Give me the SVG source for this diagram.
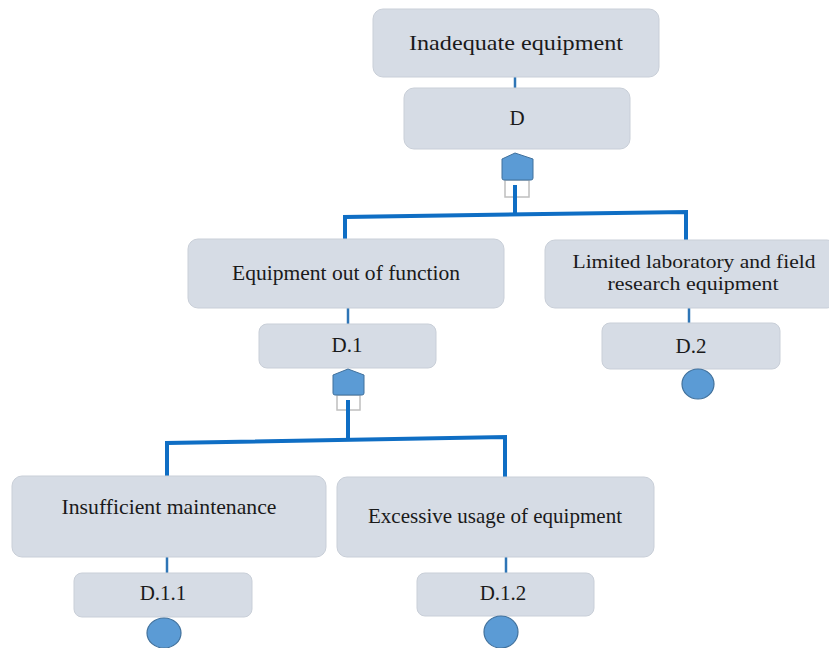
<svg xmlns="http://www.w3.org/2000/svg" width="829" height="648" viewBox="0 0 829 648">
  <style>
    .box { fill: #D6DCE5; stroke: #C9CFD8; stroke-width: 1; }
    .lbl { font-family: "Liberation Serif", "Times New Roman", serif; font-size: 21px; fill: #1a1a1a; text-anchor: middle; }
    .lbl2 { font-size: 19px; }
    .thin { stroke: #2E75B6; stroke-width: 2.5; fill: none; }
    .thick { stroke: #0F6EC4; stroke-width: 4; fill: none; stroke-linejoin: miter; }
    .gate { fill: #5B9BD5; stroke: #41719C; stroke-width: 1; }
    .socket { fill: #FFFFFF; stroke: #BFBFBF; stroke-width: 1.5; }
    .basic { fill: #5B9BD5; stroke: #41719C; stroke-width: 1.2; }
  </style>

  <!-- connectors -->
  <g id="connectors">
    <line class="thin" x1="515" y1="77" x2="515" y2="89"/>
    <line class="thin" x1="348" y1="308" x2="348" y2="324"/>
    <line class="thin" x1="689" y1="308" x2="689" y2="323"/>
    <line class="thin" x1="167" y1="557" x2="167" y2="573"/>
    <line class="thin" x1="506" y1="557" x2="506" y2="573"/>
    <path class="thick" d="M345,240 V217 L686,212 V240"/>
    <path class="thick" d="M167,477 V443 L505,437 V478"/>
  </g>

  <!-- top event -->
  <g id="top-event">
    <rect class="box" x="373" y="9" width="286" height="68" rx="10"/>
    <text class="lbl" x="516" y="50" textLength="214" lengthAdjust="spacingAndGlyphs">Inadequate equipment</text>
  </g>
  <g id="node-D">
    <rect class="box" x="404" y="88" width="226" height="61" rx="10"/>
    <text class="lbl" x="517" y="125">D</text>
  </g>

  <!-- OR gate under D -->
  <g id="gate-D">
    <rect class="socket" x="505" y="180" width="24" height="17"/>
    <path class="gate" d="M502,159 L515,153 L533,159 V178 Q533,180 531,180 H504 Q502,180 502,178 Z"/>
    <line class="thick" x1="515" y1="185" x2="515" y2="215"/>
  </g>

  <g id="event-equipment-out">
    <rect class="box" x="188" y="239" width="316" height="69" rx="10"/>
    <text class="lbl" x="346" y="280" textLength="228" lengthAdjust="spacingAndGlyphs">Equipment out of function</text>
  </g>
  <g id="node-D1">
    <rect class="box" x="259" y="324" width="177" height="44" rx="8"/>
    <text class="lbl" x="347" y="352">D.1</text>
  </g>

  <!-- OR gate under D.1 -->
  <g id="gate-D1">
    <rect class="socket" x="337" y="395" width="23" height="15"/>
    <path class="gate" d="M333,375 L348,369 L364,375 V393 Q364,395 362,395 H335 Q333,395 333,393 Z"/>
    <line class="thick" x1="348" y1="400" x2="348" y2="441"/>
  </g>

  <g id="event-limited">
    <rect class="box" x="545" y="240" width="292" height="68" rx="10"/>
    <text class="lbl lbl2" x="694" y="268" textLength="243" lengthAdjust="spacingAndGlyphs">Limited laboratory and field</text>
    <text class="lbl lbl2" x="693" y="290" textLength="171" lengthAdjust="spacingAndGlyphs">research equipment</text>
  </g>
  <g id="node-D2">
    <rect class="box" x="602" y="323" width="178" height="46" rx="8"/>
    <text class="lbl" x="691" y="353">D.2</text>
    <ellipse class="basic" cx="698" cy="384" rx="16" ry="15"/>
  </g>

  <g id="event-insufficient">
    <rect class="box" x="12" y="476" width="314" height="81" rx="10"/>
    <text class="lbl" x="169" y="514" textLength="215" lengthAdjust="spacingAndGlyphs">Insufficient maintenance</text>
  </g>
  <g id="node-D11">
    <rect class="box" x="74" y="573" width="178" height="44" rx="8"/>
    <text class="lbl" x="163" y="600">D.1.1</text>
    <ellipse class="basic" cx="164" cy="633" rx="17" ry="15"/>
  </g>

  <g id="event-excessive">
    <rect class="box" x="337" y="477" width="317" height="80" rx="10"/>
    <text class="lbl" x="495" y="523" textLength="254" lengthAdjust="spacingAndGlyphs">Excessive usage of equipment</text>
  </g>
  <g id="node-D12">
    <rect class="box" x="417" y="573" width="177" height="43" rx="8"/>
    <text class="lbl" x="503" y="600">D.1.2</text>
    <ellipse class="basic" cx="501" cy="632" rx="17" ry="16"/>
  </g>
</svg>
